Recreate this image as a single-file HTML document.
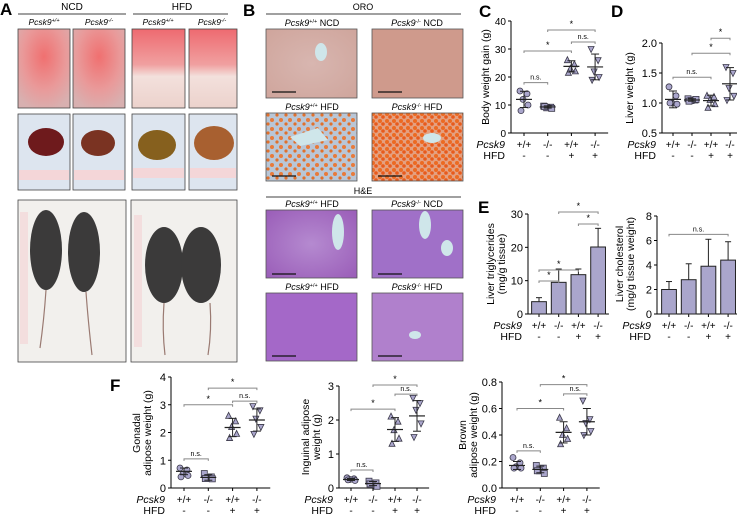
<!DOCTYPE html>
<html><head><meta charset="utf-8">
<style>
body{margin:0;background:#fff;}
svg{display:block;font-family:"Liberation Sans",Arial,sans-serif;}
</style></head>
<body>
<svg id="fig" width="737" height="517" viewBox="0 0 737 517" xmlns="http://www.w3.org/2000/svg">
<defs>
<radialGradient id="gSurg" cx="50%" cy="35%" r="70%"><stop offset="0" stop-color="#f07070"/><stop offset="0.6" stop-color="#e99a9a"/><stop offset="1" stop-color="#d8b0b0"/></radialGradient>
<linearGradient id="gSurgF" x1="0" y1="0" x2="0" y2="1"><stop offset="0" stop-color="#ee6a70"/><stop offset="0.45" stop-color="#f0a0a0"/><stop offset="0.6" stop-color="#f3e0dc"/><stop offset="1" stop-color="#ecd2cc"/></linearGradient>
<radialGradient id="gOroN" cx="50%" cy="50%" r="70%"><stop offset="0" stop-color="#d8b6b0"/><stop offset="1" stop-color="#cfa59c"/></radialGradient>
<radialGradient id="gHE" cx="50%" cy="50%" r="70%"><stop offset="0" stop-color="#b58ad0"/><stop offset="1" stop-color="#9a5db8"/></radialGradient>
<pattern id="pOro" width="9" height="9" patternUnits="userSpaceOnUse"><rect width="9" height="9" fill="#b9c6d6"/><circle cx="2" cy="3" r="2" fill="#e87a3a"/><circle cx="7" cy="7" r="1.6" fill="#e0702c"/></pattern>
<pattern id="pOro2" width="7" height="7" patternUnits="userSpaceOnUse"><rect width="7" height="7" fill="#e4a080"/><circle cx="2" cy="2" r="2" fill="#ec6a22"/><circle cx="5" cy="5" r="1.8" fill="#e85a1c"/></pattern>
</defs>

<!-- Panel A -->
<g>
<text x="0" y="15" font-size="17" font-weight="bold">A</text>
<text x="72" y="10" font-size="10" text-anchor="middle">NCD</text>
<line x1="18" y1="14" x2="126" y2="14" stroke="#000" stroke-width="0.8"/>
<text x="182" y="10" font-size="10" text-anchor="middle">HFD</text>
<line x1="133" y1="14" x2="228" y2="14" stroke="#000" stroke-width="0.8"/>
<g font-size="8.5" font-style="italic" text-anchor="middle">
<text x="44" y="25">Pcsk9<tspan font-size="5.5" dy="-3">+/+</tspan></text>
<text x="99" y="25">Pcsk9<tspan font-size="5.5" dy="-3">-/-</tspan></text>
<text x="158" y="25">Pcsk9<tspan font-size="5.5" dy="-3">+/+</tspan></text>
<text x="212" y="25">Pcsk9<tspan font-size="5.5" dy="-3">-/-</tspan></text>
</g>
<g stroke="#444" stroke-width="0.8">
<rect x="18" y="29" width="52" height="79" fill="url(#gSurg)"/>
<rect x="73" y="29" width="52" height="79" fill="url(#gSurg)"/>
<rect x="132" y="29" width="53" height="79" fill="url(#gSurgF)"/>
<rect x="189" y="29" width="48" height="79" fill="url(#gSurgF)"/>
</g>
<g>
<rect x="18" y="114" width="52" height="76" fill="#dde5ef" stroke="#444" stroke-width="0.8"/>
<rect x="73" y="114" width="52" height="76" fill="#dde5ef" stroke="#444" stroke-width="0.8"/>
<rect x="132" y="114" width="53" height="76" fill="#dde5ef" stroke="#444" stroke-width="0.8"/>
<rect x="189" y="114" width="48" height="76" fill="#dde5ef" stroke="#444" stroke-width="0.8"/>
<ellipse cx="46" cy="142" rx="18" ry="14" fill="#6e1a1c"/>
<ellipse cx="98" cy="143" rx="17" ry="13" fill="#7a3322"/>
<ellipse cx="157" cy="145" rx="19" ry="15" fill="#86601e"/>
<ellipse cx="214" cy="143" rx="20" ry="17" fill="#a86030"/>
<g fill="#f4d6d8"><rect x="19" y="170" width="50" height="10"/><rect x="74" y="170" width="50" height="10"/><rect x="133" y="168" width="51" height="10"/><rect x="190" y="168" width="46" height="10"/></g>
</g>
<g>
<rect x="18" y="200" width="108" height="162" fill="#f2f0ed" stroke="#444" stroke-width="0.8"/>
<rect x="131" y="200" width="106" height="162" fill="#f2f0ed" stroke="#444" stroke-width="0.8"/>
<rect x="20" y="212" width="8" height="132" fill="#f3dede"/>
<rect x="134" y="215" width="8" height="132" fill="#f3dede"/>
<g fill="#3b3a3a">
<ellipse cx="46" cy="250" rx="16" ry="40"/><ellipse cx="84" cy="252" rx="16" ry="40"/>
<ellipse cx="164" cy="265" rx="19" ry="38"/><ellipse cx="201" cy="265" rx="20" ry="38"/>
</g>
<g stroke="#9a7a72" stroke-width="1.2" fill="none">
<path d="M46 290 Q44 320 40 348"/><path d="M86 292 Q88 320 92 355"/>
<path d="M164 303 Q162 330 165 355"/><path d="M210 303 Q212 330 208 355"/>
</g>
</g>
</g>

<!-- Panel B -->
<g>
<text x="243" y="16" font-size="17" font-weight="bold">B</text>
<text x="363" y="10" font-size="9" text-anchor="middle">ORO</text>
<line x1="266" y1="14" x2="461" y2="14" stroke="#000" stroke-width="0.8"/>
<text x="363" y="194" font-size="9" text-anchor="middle">H&amp;E</text>
<line x1="266" y1="197" x2="461" y2="197" stroke="#000" stroke-width="0.8"/>
<g font-size="9" text-anchor="middle">
<text x="312" y="26"><tspan font-style="italic">Pcsk9</tspan><tspan font-size="5.5" dy="-3">+/+</tspan><tspan dy="3"> NCD</tspan></text>
<text x="417" y="26"><tspan font-style="italic">Pcsk9</tspan><tspan font-size="5.5" dy="-3">-/-</tspan><tspan dy="3"> NCD</tspan></text>
<text x="312" y="110"><tspan font-style="italic">Pcsk9</tspan><tspan font-size="5.5" dy="-3">+/+</tspan><tspan dy="3"> HFD</tspan></text>
<text x="417" y="110"><tspan font-style="italic">Pcsk9</tspan><tspan font-size="5.5" dy="-3">-/-</tspan><tspan dy="3"> HFD</tspan></text>
<text x="312" y="207"><tspan font-style="italic">Pcsk9</tspan><tspan font-size="5.5" dy="-3">+/+</tspan><tspan dy="3"> HFD</tspan></text>
<text x="417" y="207"><tspan font-style="italic">Pcsk9</tspan><tspan font-size="5.5" dy="-3">-/-</tspan><tspan dy="3"> NCD</tspan></text>
<text x="312" y="290"><tspan font-style="italic">Pcsk9</tspan><tspan font-size="5.5" dy="-3">+/+</tspan><tspan dy="3"> HFD</tspan></text>
<text x="417" y="290"><tspan font-style="italic">Pcsk9</tspan><tspan font-size="5.5" dy="-3">-/-</tspan><tspan dy="3"> HFD</tspan></text>
</g>
<g stroke="#555" stroke-width="0.8">
<rect x="266" y="29" width="91" height="69" fill="url(#gOroN)"/>
<rect x="372" y="29" width="91" height="69" fill="#cf9a8c"/>
<rect x="266" y="113" width="91" height="68" fill="url(#pOro)"/>
<rect x="372" y="113" width="91" height="68" fill="url(#pOro2)"/>
<rect x="266" y="210" width="91" height="68" fill="url(#gHE)"/>
<rect x="372" y="210" width="91" height="68" fill="#a070c8"/>
<rect x="266" y="293" width="91" height="68" fill="#a468c8"/>
<rect x="372" y="293" width="91" height="68" fill="#b080cc"/>
</g>
<g fill="#cfe6ea">
<ellipse cx="321" cy="52" rx="6" ry="9"/><path d="M290 137 L318 128 L328 140 L300 146Z"/><ellipse cx="432" cy="138" rx="9" ry="5"/>
<ellipse cx="338" cy="232" rx="6" ry="18"/><ellipse cx="425" cy="225" rx="6" ry="14"/><ellipse cx="447" cy="248" rx="6" ry="8"/>
<ellipse cx="415" cy="335" rx="6" ry="4"/>
</g>
<g stroke="#111" stroke-width="1.2">
<line x1="272" y1="92" x2="296" y2="92"/><line x1="378" y1="92" x2="402" y2="92"/>
<line x1="272" y1="176" x2="296" y2="176"/><line x1="378" y1="176" x2="402" y2="176"/>
<line x1="272" y1="274" x2="296" y2="274"/><line x1="378" y1="274" x2="402" y2="274"/>
<line x1="272" y1="356" x2="296" y2="356"/><line x1="378" y1="356" x2="402" y2="356"/>
</g>
</g>

<g font-size="17" font-weight="bold">
<text x="479" y="17">C</text>
<text x="611" y="17">D</text>
<text x="478" y="213">E</text>
<text x="110" y="391">F</text>
</g>
<g id="charts"></g>
</svg>

<script>
// ---------- data ----------
const groupLabelsPcsk9 = ["+/+", "-/-", "+/+", "-/-"];
const groupLabelsHFD = ["-", "-", "+", "+"];

// C: body weight gain
const bwPoints = [[15, 14, 12, 10, 8], [9.6, 9.2, 9.0, 8.8, 9.4], [26, 24.5, 23, 22, 21.5], [30, 26, 22, 20, 19]];
const bwMean = [12, 9.3, 23.8, 23.6];
const bwSD = [2.9, 0.4, 2.0, 4.6];
const bwTicks = [0, 10, 20, 30, 40];
const bwSig = [[0, 1, "n.s.", 18], [0, 2, "*", 29.3], [2, 3, "n.s.", 32.5], [1, 3, "*", 36.8]];

// D: liver weight
const lwPoints = [[1.27, 1.12, 1.0, 0.98, 1.0], [1.07, 1.05, 1.04, 1.06, 1.03], [1.12, 1.1, 1.05, 0.98, 0.92], [1.6, 1.5, 1.25, 1.12, 1.05]];
const lwMean = [1.06, 1.05, 1.04, 1.32];
const lwSD = [0.14, 0.02, 0.09, 0.27];
const lwTicks = [0.5, 1.0, 1.5, 2.0];
const lwSig = [[0, 2, "n.s.", 1.43], [1, 3, "*", 1.83], [2, 3, "*", 2.08]];

// E: liver lipids
const tgMean = [3.7, 9.5, 11.8, 20.1];
const tgErr = [1.2, 4.0, 1.7, 5.6];
const tgTicks = [0, 10, 20, 30];
const tgSig = [[0, 1, "*", 9.9], [0, 2, "*", 13.2], [2, 3, "*", 27], [1, 3, "*", 30.6]];
const chMean = [2.0, 2.8, 3.9, 4.4];
const chErr = [0.65, 1.3, 2.2, 1.5];
const chTicks = [0, 2, 4, 6, 8];
const chSig = [[0, 3, "n.s.", 6.5]];

// F: adipose
const goPoints = [[0.72, 0.65, 0.5, 0.45, 0.4], [0.52, 0.4, 0.35, 0.33, 0.34], [2.6, 2.4, 2.2, 1.95, 1.8], [2.95, 2.8, 2.5, 2.2, 1.95]];
const goMean = [0.6, 0.38, 2.18, 2.45];
const goSD = [0.12, 0.1, 0.33, 0.4];
const goTicks = [0, 1, 2, 3, 4];
const goSig = [[0, 1, "n.s.", 1.05], [0, 2, "*", 3.0], [2, 3, "n.s.", 3.13], [1, 3, "*", 3.6]];

const inPoints = [[0.3, 0.27, 0.25, 0.22, 0.24], [0.2, 0.15, 0.1, 0.05, 0.12], [2.1, 1.95, 1.7, 1.45, 1.3], [2.65, 2.5, 2.3, 1.9, 1.5]];
const inMean = [0.25, 0.13, 1.72, 2.12];
const inSD = [0.03, 0.06, 0.35, 0.45];
const inTicks = [0, 1, 2, 3];
const inSig = [[0, 1, "n.s.", 0.53], [0, 2, "*", 2.32], [2, 3, "n.s.", 2.76], [1, 3, "*", 3.03]];

const brPoints = [[0.23, 0.19, 0.16, 0.15, 0.15], [0.17, 0.15, 0.13, 0.11, 0.13], [0.53, 0.45, 0.4, 0.37, 0.33], [0.66, 0.52, 0.49, 0.43, 0.4]];
const brMean = [0.17, 0.14, 0.42, 0.5];
const brSD = [0.03, 0.025, 0.08, 0.1];
const brTicks = [0, 0.2, 0.4, 0.6, 0.8];
const brTickLabels = ["0.0", "0.2", "0.4", "0.6", "0.8"];
const brSig = [[0, 1, "n.s.", 0.28], [0, 2, "*", 0.6], [2, 3, "n.s.", 0.71], [1, 3, "*", 0.78]];

// ---------- drawing ----------
const NS = "http://www.w3.org/2000/svg";
const root = document.getElementById("charts");
function mk(tag, attrs, parent) {
  const e = document.createElementNS(NS, tag);
  for (const k in attrs) e.setAttribute(k, attrs[k]);
  (parent || root).appendChild(e);
  return e;
}
const FILL = "#aaa6cc", STROKE = "#3a3848";

function marker(g, shape, x, y) {
  let e;
  const s = 3;
  if (shape === 0) e = mk("circle", { cx: x, cy: y, r: s, fill: FILL, stroke: STROKE, "stroke-width": 0.8 }, g);
  else if (shape === 1) e = mk("rect", { x: x - s, y: y - s, width: 2 * s, height: 2 * s, fill: FILL, stroke: STROKE, "stroke-width": 0.8 }, g);
  else if (shape === 2) e = mk("path", { d: `M${x} ${y - s - 0.5}L${x + s} ${y + s - 0.5}L${x - s} ${y + s - 0.5}Z`, fill: FILL, stroke: STROKE, "stroke-width": 0.8 }, g);
  else e = mk("path", { d: `M${x} ${y + s + 0.5}L${x + s} ${y - s + 0.5}L${x - s} ${y - s + 0.5}Z`, fill: FILL, stroke: STROKE, "stroke-width": 0.8 }, g);
  
  
}

function chart(c) {
  const g = mk("g", {});
  
  
  const vmin = c.ticks[0], vmax = c.ticks[c.ticks.length - 1];
  const Y = v => c.y0 - (v - vmin) / (vmax - vmin) * (c.y0 - c.y1);
  const X = i => c.cx0 + i * c.step;
  const right = X(3) + c.step * 0.55;
  mk("line", { x1: c.ax, y1: c.y1, x2: c.ax, y2: c.y0, stroke: "#000", "stroke-width": 1 }, g);
  mk("line", { x1: c.ax, y1: c.y0, x2: right, y2: c.y0, stroke: "#000", "stroke-width": 1 }, g);
  c.ticks.forEach((t, i) => {
    mk("line", { x1: c.ax - 3, y1: Y(t), x2: c.ax, y2: Y(t), stroke: "#000" }, g);
    const tl = mk("text", { x: c.ax - 5, y: Y(t) + 4, "font-size": c.tfs || 11, "text-anchor": "end" }, g);
    tl.textContent = c.tickLabels ? c.tickLabels[i] : t.toFixed(c.dec || 0);
    
    
  });
  for (let i = 0; i < 4; i++) mk("line", { x1: X(i), y1: c.y0, x2: X(i), y2: c.y0 + 3, stroke: "#000" }, g);
  const tt = mk("text", { transform: `translate(${c.tx},${c.ty}) rotate(-90)`, "font-size": 10.5, "text-anchor": "middle" }, g);
  
  
  c.title.forEach((line, i) => {
    const ts = mk("tspan", { x: 0, dy: i === 0 ? 0 : 11 }, tt);
    ts.textContent = line;
  });
  const p = mk("text", { x: c.ax - 6, y: c.y0 + 15, "font-size": 10.5, "font-style": "italic", "text-anchor": "end" }, g);
  p.textContent = "Pcsk9";
  
  
  const h = mk("text", { x: c.ax - 6, y: c.y0 + 26, "font-size": 10.5, "text-anchor": "end" }, g);
  h.textContent = "HFD";
  
  
  for (let i = 0; i < 4; i++) {
    const a = mk("text", { x: X(i), y: c.y0 + 15, "font-size": 10, "text-anchor": "middle" }, g);
    a.textContent = groupLabelsPcsk9[i];
    
    
    const b = mk("text", { x: X(i), y: c.y0 + 26, "font-size": 10, "text-anchor": "middle" }, g);
    b.textContent = groupLabelsHFD[i];
    
    
  }
  if (c.bars) {
    const bw = c.step * 0.75;
    c.bars.forEach((m, i) => {
      const top = Y(m + c.err[i]);
      mk("line", { x1: X(i), y1: Y(m), x2: X(i), y2: top, stroke: "#222", "stroke-width": 1 }, g);
      mk("line", { x1: X(i) - 3, y1: top, x2: X(i) + 3, y2: top, stroke: "#222", "stroke-width": 1 }, g);
      const r = mk("rect", { x: X(i) - bw / 2, y: Y(m), width: bw, height: c.y0 - Y(m), fill: FILL, stroke: "#222", "stroke-width": 1 }, g);
      
      
    });
  }
  if (c.points) {
    const offs = [-4, 3, -1, 4, -3];
    c.points.forEach((arr, i) => {
      arr.forEach((v, j) => marker(g, i, X(i) + offs[j], Y(v)));
      const m = c.mean[i], sd = c.sd[i];
      mk("line", { x1: X(i) - 8, y1: Y(m), x2: X(i) + 8, y2: Y(m), stroke: "#222", "stroke-width": 1.2 }, g);
      mk("line", { x1: X(i), y1: Y(m - sd), x2: X(i), y2: Y(m + sd), stroke: "#222", "stroke-width": 1 }, g);
      mk("line", { x1: X(i) - 4, y1: Y(m - sd), x2: X(i) + 4, y2: Y(m - sd), stroke: "#222", "stroke-width": 1 }, g);
      mk("line", { x1: X(i) - 4, y1: Y(m + sd), x2: X(i) + 4, y2: Y(m + sd), stroke: "#222", "stroke-width": 1 }, g);
    });
  }
  c.sig.forEach(s => {
    const y = Y(s[3]);
    const ln = mk("path", { d: `M${X(s[0])} ${y + 2}V${y}H${X(s[1])}V${y + 2}`, fill: "none", stroke: "#888", "stroke-width": 1 }, g);
    
    
    const t = mk("text", { x: (X(s[0]) + X(s[1])) / 2, y: y - 3, "font-size": s[2] === "*" ? 9 : 7, "text-anchor": "middle" }, g);
    t.textContent = s[2];
    
    
  });
}

chart({ name: "body-weight-chart", ax: 511, y0: 133, y1: 21, cx0: 524, step: 23.7, ticks: bwTicks, tfs: 10, points: bwPoints, mean: bwMean, sd: bwSD, sig: bwSig, title: ["Body weight gain (g)"], tx: 489, ty: 77 });
chart({ name: "liver-weight-chart", ax: 662, y0: 133, y1: 43, cx0: 673, step: 19, ticks: lwTicks, dec: 1, points: lwPoints, mean: lwMean, sd: lwSD, sig: lwSig, title: ["Liver weight (g)"], tx: 633, ty: 88 });
chart({ name: "liver-tg-chart", ax: 528, y0: 314, y1: 214, cx0: 539, step: 19.7, ticks: tgTicks, bars: tgMean, err: tgErr, sig: tgSig, title: ["Liver triglycerides", "(mg/g tissue)"], tx: 494, ty: 264 });
chart({ name: "liver-cholesterol-chart", ax: 657, y0: 314, y1: 216, cx0: 669, step: 19.7, ticks: chTicks, bars: chMean, err: chErr, sig: chSig, title: ["Liver cholesterol", "(mg/g tissue weight)"], tx: 623, ty: 264 });
chart({ name: "gonadal-adipose-chart", ax: 171, y0: 488, y1: 377, cx0: 184, step: 24.3, ticks: goTicks, points: goPoints, mean: goMean, sd: goSD, sig: goSig, title: ["Gonadal", "adipose weight (g)"], tx: 140, ty: 433 });
chart({ name: "inguinal-adipose-chart", ax: 339, y0: 488, y1: 386, cx0: 351, step: 22, ticks: inTicks, points: inPoints, mean: inMean, sd: inSD, sig: inSig, title: ["Inguinal adipose", "weight (g)"], tx: 309, ty: 437 });
chart({ name: "brown-adipose-chart", ax: 502, y0: 488, y1: 382, cx0: 517, step: 23.3, ticks: brTicks, tickLabels: brTickLabels, points: brPoints, mean: brMean, sd: brSD, sig: brSig, title: ["Brown", "adipose weight (g)"], tx: 466, ty: 435 });
</script>
</body></html>
